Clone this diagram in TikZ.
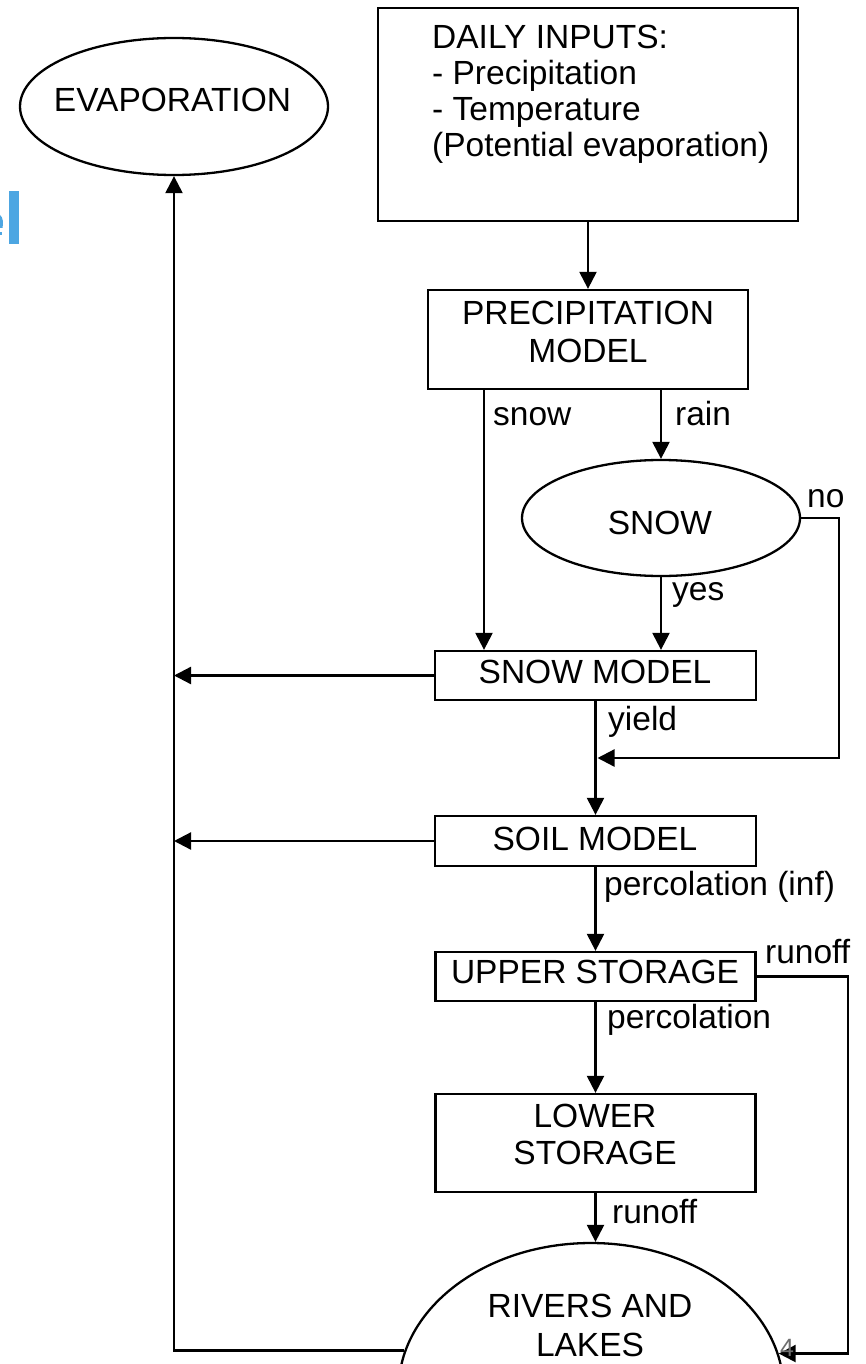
\documentclass[tikz,border=0pt]{standalone}
\usepackage{fontspec}
\setmainfont{Liberation Sans}
\usetikzlibrary{arrows.meta,shapes.geometric}
\definecolor{barblue}{RGB}{77,166,226}
\definecolor{pagegray}{RGB}{110,110,110}
\tikzset{
  boxnode/.style={draw, line width=2.3pt, rectangle, inner sep=0pt},
  ovalnode/.style={draw, line width=2.3pt, ellipse, inner sep=0pt},
  txt/.style={inner sep=0pt, font=\fontsize{33.5}{36}\selectfont},
  lbl/.style={inner sep=0pt, anchor=base west, font=\fontsize{33.5}{36}\selectfont},
  arr/.style={line width=2.3pt, -{Triangle[length=17pt,width=17pt]}},
}
\begin{document}
\begin{tikzpicture}[x=1pt,y=-1pt]
\useasboundingbox (0,0) rectangle (865,1364);
\clip (0,0) rectangle (865,1364);
\fill[white] (0,0) rectangle (865,1364);

% blue bar at left edge and the sliver of a cut-off glyph
\fill[barblue] (9,191) rectangle (19,244);
\fill[barblue] (0,215) .. controls (3,217) and (3.5,223) .. (2.5,228) -- (0,228) -- cycle;
\fill[barblue] (0,232) rectangle (1.5,235);

% shapes
\node[ovalnode, minimum width=308pt, minimum height=137pt] (evap) at (174,106.5) {};
\node[boxnode, minimum width=420pt, minimum height=213pt] (daily) at (588,114.5) {};
\node[boxnode, minimum width=320pt, minimum height=99pt] (precip) at (588,339.5) {};
\node[ovalnode, minimum width=278pt, minimum height=116pt] (snowq) at (661,518) {};
\node[boxnode, minimum width=321pt, minimum height=49pt] (snowm) at (595.5,675.5) {};
\node[boxnode, minimum width=321pt, minimum height=50pt] (soil) at (595.5,841) {};
\node[boxnode, minimum width=320pt, minimum height=49pt] (upper) at (595.5,976.5) {};
\node[boxnode, minimum width=320pt, minimum height=98pt] (lower) at (595.5,1143) {};
\node[ovalnode, minimum width=385pt, minimum height=294pt] (rivers) at (591,1390) {};

% texts inside shapes
\node[txt, anchor=base] (evapt) at (172.5,112) {EVAPORATION};
\node[txt, anchor=north west, align=left, font=\fontsize{33.5}{36}\selectfont] (dailyt) at (432,25)
  {DAILY INPUTS:\\- Precipitation\\- Temperature\\(Potential evaporation)};
\node[txt, anchor=north, align=center, font=\fontsize{33.5}{38}\selectfont] (precipt) at (588,301)
  {PRECIPITATION\\MODEL};
\node[txt, anchor=base] (snowqt) at (660,534) {SNOW};
\node[txt, anchor=base] (snowmt) at (595,683) {SNOW MODEL};
\node[txt, anchor=base] (soilt) at (595,850) {SOIL MODEL};
\node[txt, anchor=base] (uppert) at (595,983) {UPPER STORAGE};
\node[txt, anchor=north, align=center, font=\fontsize{33.5}{37}\selectfont] (lowert) at (595,1104)
  {LOWER\\STORAGE};
\node[txt, anchor=north, align=center, font=\fontsize{33.5}{39}\selectfont] (riverst) at (590,1294)
  {RIVERS AND\\LAKES};

% helper coordinates
\coordinate (sx) at (484,0);
\coordinate (yj) at (597.5,758);

% connectors
\draw[arr] (daily) -- (precip);
\draw[arr] (precip.south -| sx) -- (snowm.north -| sx);
\draw[arr] (precip.south -| snowq.north) -- (snowq.north);
\draw[arr] (snowq.south) -- (snowm.north -| snowq.south);
\draw[arr] (snowq.east) -- ++(38,0) |- (yj);
\draw[arr] (snowm) -- (soil);
\draw[arr] (soil) -- (upper);
\draw[arr] (upper) -- (lower);
\draw[arr] (lower.south) -- (lower.south |- rivers.north);
\draw[arr] (upper.east) -- ++(91,0) |- (rivers.11.7);
\draw[arr] (snowm.west) -- (snowm.west -| evap.south);
\draw[arr] (soil.west) -- (soil.west -| evap.south);
\draw[arr] (rivers.168.3) -| (evap.south);

% connector labels
\node[lbl] (lsnow) at (493,425) {snow};
\node[lbl] (lrain) at (675,425) {rain};
\node[lbl] (lno) at (807,507) {no};
\node[lbl] (lyes) at (672,600) {yes};
\node[lbl] (lyield) at (608,730) {yield};
\node[lbl] (lpinf) at (604,895) {percolation (inf)};
\node[lbl] (lrun1) at (765,963) {runoff};
\node[lbl] (lperc) at (607,1028) {percolation};
\node[lbl] (lrun2) at (612,1223) {runoff};

% page number
\node[inner sep=0pt, anchor=base west, text=pagegray, font=\fontsize{25}{25}\selectfont] (pnum) at (780,1356) {4};
\end{tikzpicture}
\end{document}
